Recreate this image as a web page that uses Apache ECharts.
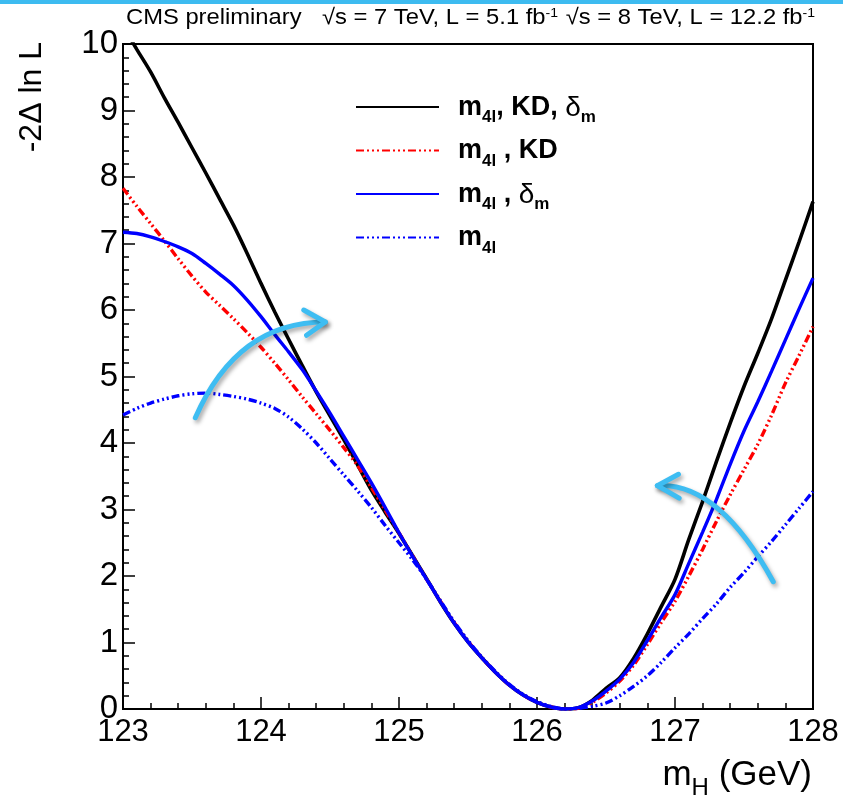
<!DOCTYPE html>
<html>
<head>
<meta charset="utf-8">
<script src="https://cdn.jsdelivr.net/npm/echarts@6/dist/echarts.min.js"></script>
<style>
  html, body { margin: 0; padding: 0; background: #fff; }
  #main { width: 843px; height: 805px; }
</style>
</head>
<body>
<div id="main"></div>
<script>
// Higgs mass scan: -2 delta ln L versus m_H for the four fit configurations
const mH = [
  123.0, 123.1, 123.2, 123.3, 123.4, 123.5, 123.6, 123.7, 123.8, 123.9,
  124.0, 124.1, 124.2, 124.3, 124.4, 124.5, 124.6, 124.7, 124.8, 124.9,
  125.0, 125.1, 125.2, 125.3, 125.4, 125.5, 125.6, 125.7, 125.8, 125.9,
  126.0, 126.1, 126.2, 126.3, 126.4, 126.5, 126.6, 126.7, 126.8, 126.9,
  127.0, 127.1, 127.2, 127.3, 127.4, 127.5, 127.6, 127.7, 127.8, 127.9,
  128.0
];
// m4l, KD, delta_m (black)
const nllFull = [
  10.27, 9.92, 9.58, 9.19, 8.82, 8.44, 8.06, 7.67, 7.28, 6.85,
  6.40, 5.97, 5.56, 5.16, 4.77, 4.41, 4.05, 3.67, 3.29, 2.96,
  2.64, 2.30, 1.96, 1.61, 1.29, 1.01, 0.77, 0.55, 0.36, 0.21,
  0.10, 0.03, 0.00, 0.02, 0.13, 0.31, 0.47, 0.76, 1.13, 1.54,
  1.95, 2.55, 3.12, 3.72, 4.30, 4.85, 5.35, 5.87, 6.45, 7.03,
  7.63
];
// m4l, KD (red dash-dot)
const nllKD = [
  7.83, 7.56, 7.30, 7.04, 6.77, 6.51, 6.27, 6.07, 5.87, 5.66,
  5.44, 5.20, 4.95, 4.69, 4.44, 4.19, 3.93, 3.66, 3.33, 2.99,
  2.65, 2.30, 1.95, 1.62, 1.30, 1.02, 0.77, 0.55, 0.36, 0.21,
  0.10, 0.03, 0.00, 0.01, 0.10, 0.24, 0.42, 0.66, 0.97, 1.30,
  1.62, 2.00, 2.40, 2.82, 3.22, 3.60, 3.98, 4.42, 4.90, 5.32,
  5.75
];
// m4l, delta_m (blue solid)
const nllDm = [
  7.17, 7.15, 7.10, 7.03, 6.95, 6.85, 6.70, 6.54, 6.37, 6.15,
  5.90, 5.63, 5.37, 5.10, 4.78, 4.45, 4.10, 3.75, 3.40, 3.03,
  2.65, 2.29, 1.95, 1.61, 1.29, 1.01, 0.77, 0.55, 0.36, 0.21,
  0.10, 0.03, 0.00, 0.02, 0.12, 0.27, 0.45, 0.70, 1.03, 1.38,
  1.72, 2.19, 2.66, 3.15, 3.68, 4.18, 4.62, 5.08, 5.55, 6.02,
  6.48
];
// m4l only (blue dash-dot)
const nllMass = [
  4.42, 4.52, 4.60, 4.66, 4.71, 4.74, 4.75, 4.73, 4.70, 4.66,
  4.60, 4.52, 4.39, 4.21, 4.00, 3.76, 3.52, 3.28, 3.03, 2.76,
  2.50, 2.24, 1.95, 1.63, 1.31, 1.03, 0.78, 0.56, 0.37, 0.22,
  0.11, 0.04, 0.00, 0.01, 0.04, 0.09, 0.20, 0.34, 0.50, 0.70,
  0.92, 1.13, 1.36, 1.58, 1.83, 2.05, 2.29, 2.52, 2.77, 3.02,
  3.27
];

const seriesNames = ['m4l, KD, δm', 'm4l , KD', 'm4l , δm', 'm4l'];
const legendRich = {
  'm4l, KD, δm': '{sp| }{b|m}{s|4l}{b|, KD, }{g|δ}{s|m}',
  'm4l , KD':    '{sp| }{b|m}{s|4l}{b| , KD}',
  'm4l , δm':    '{sp| }{b|m}{s|4l}{b| , }{g|δ}{s|m}',
  'm4l':         '{sp| }{b|m}{s|4l}'
};

// annotation arrows, given in (m_H, -2 delta ln L) coordinates
const arrowRise = { start: [123.524, 4.38], ctrl: [123.828, 5.82], end: [124.466, 5.82],
                    barbs: [[124.31, 6.00], [124.33, 5.62]] };
const arrowFall = { start: [127.712, 1.914], ctrl: [127.314, 3.418], end: [126.872, 3.358],
                    barbs: [[127.025, 3.53], [127.03, 3.17]] };

const FONT = "'Liberation Sans', Arial, Helvetica, sans-serif";
const dashDot = [8, 3, 2, 3, 2, 3, 2, 3];

const pairs = (xs, ys) => xs.map((x, i) => [x, ys[i]]);

const chart = echarts.init(document.getElementById('main'), null, { renderer: 'canvas' });

function mkSeries(name, values, color, type, width) {
  return {
    name: name,
    type: 'line',
    data: pairs(mH, values),
    symbol: 'none',
    showSymbol: false,
    smooth: 0.3,
    clip: true,
    animation: false,
    itemStyle: { color: color },
    lineStyle: { color: color, width: width, type: type }
  };
}

chart.setOption({
  animation: false,
  backgroundColor: '#fff',
  grid: {
    left: 123, right: 30, top: 44, bottom: 96,
    show: true, borderColor: '#000', borderWidth: 2,
    outerBoundsMode: 'none', containLabel: false
  },
  xAxis: {
    type: 'value', min: 123, max: 128, interval: 1,
    axisLine: { show: true, onZero: false, lineStyle: { color: '#000', width: 2 } },
    axisTick: { show: true, inside: true, length: 12, lineStyle: { color: '#000', width: 1.5 } },
    minorTick: { show: true, splitNumber: 5, length: 6, lineStyle: { color: '#000', width: 1.5 } },
    splitLine: { show: false },
    minorSplitLine: { show: false },
    axisLabel: { fontSize: 31, color: '#000', margin: 8, fontFamily: FONT, hideOverlap: false }
  },
  yAxis: {
    type: 'value', min: 0, max: 10, interval: 1,
    axisLine: { show: true, onZero: false, lineStyle: { color: '#000', width: 2 } },
    axisTick: { show: true, inside: true, length: 12, lineStyle: { color: '#000', width: 1.5 } },
    minorTick: { show: true, splitNumber: 5, length: 6, lineStyle: { color: '#000', width: 1.5 } },
    splitLine: { show: false },
    minorSplitLine: { show: false },
    axisLabel: { fontSize: 33, color: '#000', margin: 5, fontFamily: FONT, hideOverlap: false }
  },
  legend: {
    orient: 'vertical',
    left: 350, top: 89,
    itemWidth: 83, itemHeight: 31, itemGap: 11.5,
    data: seriesNames,
    selectedMode: false,
    itemStyle: { opacity: 0 },
    formatter: n => legendRich[n],
    textStyle: {
      fontFamily: FONT, color: '#000',
      rich: {
        sp: { width: 14, fontSize: 10 },
        b: { fontSize: 27, fontWeight: 'bold', fontFamily: FONT, lineHeight: 26, verticalAlign: 'top' },
        g: { fontSize: 28, fontFamily: FONT, lineHeight: 26, verticalAlign: 'top' },
        s: { fontSize: 17, fontWeight: 'bold', fontFamily: FONT, lineHeight: 17, padding: [15, 0, 0, 0], verticalAlign: 'top' }
      }
    }
  },
  series: [
    mkSeries(seriesNames[0], nllFull, '#000000', 'solid', 3.6),
    mkSeries(seriesNames[1], nllKD, '#ff0000', dashDot, 3.4),
    mkSeries(seriesNames[2], nllDm, '#0000ff', 'solid', 3.4),
    mkSeries(seriesNames[3], nllMass, '#0000ff', dashDot, 3.4)
  ]
});

// overlays: header, axis titles and annotation arrows
const px = v => chart.convertToPixel({ gridIndex: 0 }, v);
const arrowStyle = {
  stroke: '#3ebdf2', lineWidth: 5, fill: null, lineCap: 'round', lineJoin: 'round',
  shadowColor: 'rgba(0,0,0,0.35)', shadowBlur: 4, shadowOffsetX: 2, shadowOffsetY: 3
};
function arrowParts(a) {
  const s = px(a.start), c = px(a.ctrl), e = px(a.end);
  const b1 = px(a.barbs[0]), b2 = px(a.barbs[1]);
  return [
    { type: 'bezierCurve', z: 50, shape: { x1: s[0], y1: s[1], cpx1: c[0], cpy1: c[1], x2: e[0], y2: e[1] },
      style: arrowStyle, silent: true },
    { type: 'polyline', z: 50, shape: { points: [b1, e, b2] }, style: arrowStyle, silent: true }
  ];
}

const headRich = {
  t: { fontSize: 22, fontFamily: FONT, fill: '#000' },
  sup: { fontSize: 13, fontFamily: FONT, fill: '#000', verticalAlign: 'top', padding: [0, 0, 9, 0] }
};

chart.setOption({
  graphic: [
    { type: 'rect', z: 100, shape: { x: 0, y: 0, width: 843, height: 4 }, style: { fill: '#3dbbf0' }, silent: true },
    { type: 'text', z: 100, x: 126, y: 18, scaleX: 1.08,
      style: { text: 'CMS preliminary', font: '22px ' + FONT, fill: '#000', verticalAlign: 'middle' } },
    { type: 'text', z: 100, x: 322, y: 18, scaleX: 1.08,
      style: { text: '{t|√s = 7 TeV, L = 5.1 fb}{sup|-1}', rich: headRich, verticalAlign: 'middle' } },
    { type: 'text', z: 100, x: 815, y: 18, scaleX: 1.08,
      style: { text: '{t|√s = 8 TeV, L = 12.2 fb}{sup|-1}', rich: headRich, align: 'right', verticalAlign: 'middle' } },
    { type: 'text', z: 100, x: 32, y: 42, rotation: Math.PI / 2,
      style: { text: '-2Δ ln L', font: '32px ' + FONT, fill: '#000', align: 'right', verticalAlign: 'middle' } },
    { type: 'text', z: 100, x: 812, y: 775,
      style: {
        text: '{m|m}{h|H}{m| (GeV)}', align: 'right', verticalAlign: 'middle',
        rich: {
          m: { fontSize: 35, fontFamily: FONT, fill: '#000', lineHeight: 35, verticalAlign: 'top' },
          h: { fontSize: 24, fontFamily: FONT, fill: '#000', lineHeight: 24, padding: [19, 0, 0, 0], verticalAlign: 'top' }
        }
      } },
    ...arrowParts(arrowRise),
    ...arrowParts(arrowFall)
  ]
});
</script>
</body>
</html>
